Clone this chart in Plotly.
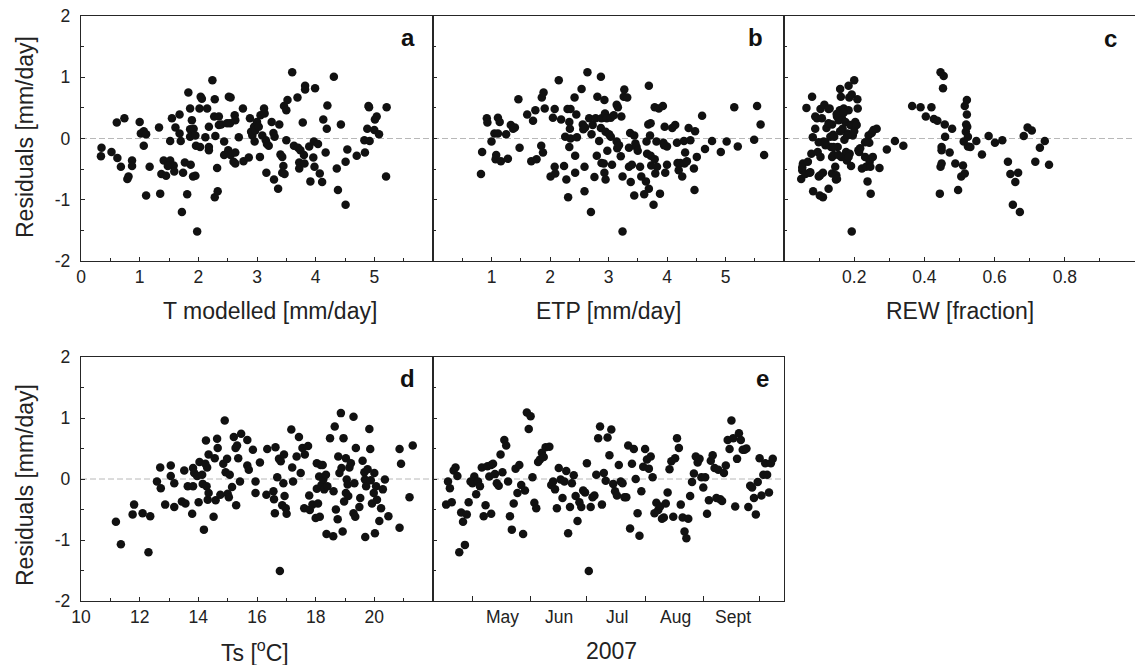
import plotly.graph_objects as go

# ---------------- data ----------------
# panel a : residuals vs modelled transpiration
t_modelled = [0.35, 0.34, 0.52, 0.61, 0.62, 0.74, 0.68, 0.79, 0.81, 0.87,
              0.87, 1.00, 1.02, 1.07, 1.11, 1.07, 1.11, 1.17, 1.33, 1.35,
              1.41, 1.37, 1.45, 1.52, 1.55, 1.52, 1.58, 1.59, 1.48, 1.61,
              1.68, 1.68, 1.70, 1.72, 1.74, 1.77, 1.81, 1.83, 1.86, 1.86,
              1.89, 1.86, 1.87, 1.91, 1.95, 1.92, 1.98, 1.96, 1.95, 2.02,
              2.03, 2.04, 2.06, 2.12, 2.15, 2.18, 2.18, 2.18, 2.24, 2.28,
              2.27, 2.28, 2.29, 2.32, 2.33, 2.35, 2.35, 2.39, 2.44, 2.44,
              2.49, 2.51, 2.52, 2.55, 2.55, 2.54, 2.60, 2.62, 2.63, 2.63,
              2.63, 2.69, 2.76, 2.77, 2.86, 2.88, 2.90, 2.92, 2.95, 2.96,
              2.97, 3.00, 3.03, 3.05, 3.06, 3.09, 3.12, 3.13, 3.15, 3.16,
              3.17, 3.20, 3.25, 3.28, 3.29, 3.30, 3.36, 3.38, 3.40, 3.43,
              3.45, 3.43, 3.46, 3.47, 3.50, 3.50, 3.52, 3.60, 3.63, 3.69,
              3.70, 3.72, 3.72, 3.74, 3.78, 3.80, 3.81, 3.82, 3.82, 3.89,
              3.91, 3.96, 3.97, 3.98, 3.99, 4.04, 4.07, 4.11, 4.13, 4.17,
              4.19, 4.20, 4.31, 4.36, 4.38, 4.43, 4.51, 4.51, 4.54, 4.70,
              4.83, 4.84, 4.88, 4.90, 4.91, 4.92, 5.00, 5.01, 5.04, 5.08,
              5.20, 5.21]
res_a = [-0.15, -0.29, -0.22, 0.26, -0.32, 0.33, -0.46, -0.66, -0.62, -0.36,
         -0.45, 0.27, 0.08, 0.12, 0.07, -0.12, -0.93, -0.46, 0.18, -0.90,
         -0.36, -0.58, -0.61, -0.36, 0.33, -0.04, -0.44, -0.54, -0.45, 0.18,
         0.39, 0.08, -0.04, -1.20, -0.56, -0.39, -0.91, 0.75, 0.49, 0.15,
         0.30, 0.03, -0.43, -0.62, -0.61, 0.16, -1.52, -0.12, 0.05, 0.49,
         -0.14, 0.68, 0.65, 0.02, 0.49, 0.19, -0.14, -0.19, 0.95, 0.64,
         0.36, -0.96, 0.04, -0.48, -0.86, 0.22, 0.36, 0.23, -0.05, -0.27,
         0.25, -0.19, 0.68, 0.67, -0.27, 0.25, -0.38, 0.38, 0.30, -0.23,
         -0.41, 0.02, 0.49, -0.37, -0.31, 0.33, 0.11, 0.05, 0.19, -0.05,
         0.13, 0.27, 0.19, -0.30, 0.38, 0.05, 0.49, 0.41, -0.03, -0.56,
         -0.09, -0.12, 0.27, 0.09, -0.67, 0.03, -0.82, 0.23, -0.26, -0.30,
         -0.45, -0.56, 0.53, -0.58, -0.03, 0.46, 0.63, 1.08, -0.12, 0.67,
         -0.15, -0.39, -0.49, -0.19, 0.26, -0.27, -0.41, 0.86, 0.80, -0.13,
         -0.70, -0.31, -0.05, -0.46, 0.82, -0.09, -0.57, -0.71, 0.31, -0.23,
         0.16, 0.54, 1.01, -0.49, -0.84, 0.23, -0.38, -1.08, -0.18, -0.28,
         -0.03, -0.23, 0.16, 0.53, 0.51, -0.04, 0.14, 0.31, 0.36, 0.07,
         -0.62, 0.51]

# panel b : residuals vs potential evapotranspiration
etp = [0.82, 0.84, 0.92, 0.93, 1.00, 1.05, 1.07, 1.08, 1.11, 1.11,
       1.14, 1.16, 1.25, 1.28, 1.33, 1.37, 1.40, 1.46, 1.48, 1.61,
       1.68, 1.71, 1.75, 1.77, 1.85, 1.88, 1.86, 1.89, 1.91, 2.01,
       2.05, 2.08, 2.08, 2.09, 2.15, 2.19, 2.24, 2.26, 2.28, 2.30,
       2.31, 2.33, 2.34, 2.35, 2.33, 2.35, 2.42, 2.43, 2.43, 2.45,
       2.46, 2.54, 2.56, 2.57, 2.59, 2.59, 2.60, 2.64, 2.67, 2.70,
       2.71, 2.73, 2.76, 2.78, 2.80, 2.81, 2.84, 2.87, 2.87, 2.88,
       2.88, 2.92, 2.93, 2.93, 2.94, 2.95, 2.95, 2.97, 2.98, 3.01,
       3.04, 3.04, 3.06, 3.09, 3.14, 3.14, 3.16, 3.15, 3.18, 3.21,
       3.22, 3.24, 3.24, 3.26, 3.27, 3.32, 3.35, 3.35, 3.37, 3.38,
       3.40, 3.44, 3.44, 3.46, 3.48, 3.50, 3.54, 3.56, 3.61, 3.64,
       3.65, 3.66, 3.68, 3.69, 3.69, 3.71, 3.72, 3.72, 3.73, 3.77,
       3.79, 3.79, 3.80, 3.82, 3.83, 3.86, 3.88, 3.93, 3.94, 3.95,
       3.96, 3.97, 4.00, 4.00, 4.09, 4.14, 4.17, 4.18, 4.20, 4.23,
       4.26, 4.29, 4.30, 4.31, 4.34, 4.37, 4.40, 4.46, 4.47, 4.48,
       4.51, 4.60, 4.65, 4.77, 4.92, 5.02, 5.15, 5.21, 5.49, 5.54,
       5.60, 5.66]
res_b = [-0.58, -0.22, 0.33, 0.26, -0.05, 0.08, -0.34, -0.27, 0.08, 0.34,
         0.27, -0.37, 0.07, -0.33, 0.22, 0.16, 0.18, 0.64, -0.15, 0.39,
         -0.37, 0.29, 0.46, -0.34, -0.12, -0.23, 0.67, 0.75, 0.49, -0.62,
         0.34, 0.48, -0.46, -0.57, 0.95, 0.31, -0.45, 0.03, -0.67, 0.48,
         -0.96, 0.27, 0.16, 0.48, -0.14, 0.00, 0.67, -0.28, -0.56, 0.39,
         0.02, 0.81, 0.23, 0.15, -0.46, -0.86, 0.18, 1.08, 0.33, -1.20,
         0.07, 0.22, -0.63, 0.33, -0.28, 0.68, -0.04, 1.01, 0.17, 0.33,
         -0.40, -0.41, 0.63, -0.56, 0.41, -0.67, 0.11, 0.33, -0.20, 0.07,
         0.03, 0.34, -0.43, 0.38, -0.05, 0.55, 0.51, -0.16, -0.11, -0.29,
         0.36, -0.62, -1.52, 0.68, 0.80, 0.67, -0.15, -0.46, 0.09, -0.71,
         -0.43, 0.05, -0.93, -0.08, -0.14, -0.20, -0.46, -0.62, -0.91, -0.70,
         -0.05, -0.25, 0.23, 0.86, -0.82, 0.05, 0.25, -0.28, -0.44, -1.08,
         0.51, -0.34, -0.57, -0.05, -0.46, 0.49, -0.90, 0.53, -0.07, -0.11,
         0.19, -0.56, -0.13, -0.43, 0.17, 0.22, -0.07, -0.40, -0.52, -0.40,
         -0.62, -0.04, -0.41, -0.23, -0.37, 0.17, -0.03, -0.49, -0.84, 0.12,
         -0.30, 0.37, -0.17, -0.04, -0.22, -0.05, 0.51, -0.13, -0.02, 0.53,
         0.23, -0.27]

# panel c : residuals vs relative extractable water
rew = [0.049, 0.052, 0.054, 0.061, 0.064, 0.068, 0.073, 0.078, 0.080, 0.082,
       0.083, 0.089, 0.089, 0.094, 0.096, 0.099, 0.102, 0.104, 0.104, 0.108,
       0.111, 0.111, 0.113, 0.115, 0.118, 0.121, 0.127, 0.130, 0.132, 0.134,
       0.137, 0.137, 0.137, 0.141, 0.143, 0.146, 0.148, 0.149, 0.151, 0.153,
       0.156, 0.159, 0.160, 0.162, 0.163, 0.165, 0.167, 0.170, 0.172, 0.173,
       0.175, 0.177, 0.179, 0.181, 0.184, 0.184, 0.186, 0.187, 0.189, 0.191,
       0.193, 0.193, 0.196, 0.200, 0.203, 0.207, 0.209, 0.210, 0.214, 0.217,
       0.222, 0.231, 0.234, 0.238, 0.241, 0.243, 0.244, 0.246, 0.247, 0.250,
       0.253, 0.255, 0.264, 0.272, 0.293, 0.316, 0.340, 0.365, 0.389, 0.404,
       0.420, 0.427, 0.437, 0.444, 0.446, 0.446, 0.449, 0.449, 0.453, 0.455,
       0.449, 0.458, 0.459, 0.472, 0.479, 0.488, 0.496, 0.505, 0.510, 0.512,
       0.515, 0.515, 0.518, 0.519, 0.521, 0.521, 0.522, 0.524, 0.524, 0.531,
       0.548, 0.564, 0.583, 0.601, 0.622, 0.638, 0.645, 0.652, 0.659, 0.667,
       0.672, 0.683, 0.694, 0.706, 0.716, 0.729, 0.743, 0.755,
       0.127, 0.127, 0.052, 0.075, 0.103, 0.151, 0.184, 0.155, 0.212, 0.141,
       0.099, 0.118, 0.231, 0.150, 0.170, 0.160, 0.180, 0.140, 0.200]
res_c = [-0.66, -0.52, -0.41, -0.58, 0.50, -0.38, -0.56, -0.25, 0.68, 0.02,
         -0.86, 0.36, 0.16, 0.33, -0.22, -0.62, -0.93, -0.30, 0.48, 0.33,
         -0.56, -0.96, -0.05, 0.55, -0.11, 0.17, -0.82, 0.49, 0.03, -0.14,
         -0.30, 0.23, -0.57, -0.27, 0.03, -0.46, -0.67, -0.60, 0.36, -0.14,
         0.30, 0.46, 0.81, 0.68, -0.30, 0.33, 0.16, 0.49, -0.02, -0.30,
         0.27, -0.22, -0.36, 0.08, 0.46, 0.86, 0.67, -0.25, 0.22, -0.45,
         -1.52, 0.72, 0.05, 0.95, 0.27, 0.22, 0.64, 0.49, -0.22, -0.16,
         -0.49, -0.30, -0.46, -0.70, 0.05, -0.07, -0.38, -0.46, -0.90, 0.09,
         -0.30, 0.14, 0.16, -0.48, -0.18, -0.04, -0.12, 0.53, 0.51, 0.36,
         0.51, 0.32, 0.29, -0.90, 1.08, -0.46, -0.14, -0.41, 0.82, 1.02,
         -0.19, 0.23, 0.03, -0.23, 0.16, -0.41, -0.84, -0.62, -0.44, -0.05,
         0.53, -0.57, 0.11, 0.23, 0.39, 0.63, 0.19, -0.13, 0.03, -0.14,
         -0.04, -0.26, 0.04, -0.07, -0.03, -0.38, -0.58, -1.08, -0.71, -0.56,
         -1.20, 0.04, 0.18, 0.13, -0.38, -0.15, -0.04, -0.43,
         0.48, 0.25, -0.47, -0.55, -0.60, -0.66, -0.30, -0.27, -0.19, -0.14,
         -0.06, -0.06, -0.06, 0.40, 0.42, 0.12, 0.05, 0.06, 0.12]

# panel d : residuals vs soil temperature
ts = [11.19, 11.36, 11.76, 11.81, 12.10, 12.30, 12.36, 12.59, 12.70, 12.72,
      12.87, 13.06, 13.06, 13.18, 13.18, 13.44, 13.52, 13.56, 13.64, 13.79,
      13.82, 13.82, 13.86, 13.96, 14.01, 14.04, 14.13, 14.15, 14.19, 14.24,
      14.26, 14.28, 14.30, 14.32, 14.35, 14.35, 14.52, 14.56, 14.59, 14.64,
      14.66, 14.75, 14.85, 14.90, 14.93, 14.98, 15.00, 15.04, 15.07, 15.15,
      15.21, 15.27, 15.29, 15.32, 15.36, 15.42, 15.46, 15.67, 15.67, 15.72,
      15.86, 15.95, 15.95, 16.10, 16.32, 16.35, 16.56, 16.58, 16.61, 16.63,
      16.69, 16.75, 16.78, 16.81, 16.86, 16.90, 16.94, 16.92, 16.98, 17.01,
      17.17, 17.20, 17.23, 17.35, 17.43, 17.49, 17.55, 17.61, 17.63, 17.74,
      17.78, 17.80, 17.89, 18.00, 18.04, 18.04, 18.08, 18.12, 18.14, 18.17,
      18.20, 18.24, 18.26, 18.29, 18.35, 18.37, 18.40, 18.49, 18.60, 18.61,
      18.65, 18.69, 18.75, 18.77, 18.81, 18.86, 18.88, 18.92, 18.95, 18.97,
      19.03, 19.03, 19.06, 19.09, 19.11, 19.15, 19.20, 19.29, 19.29, 19.32,
      19.35, 19.37, 19.49, 19.52, 19.60, 19.66, 19.68, 19.69, 19.72, 19.77,
      19.83, 19.86, 19.88, 19.92, 19.98, 20.00, 20.02, 20.06, 20.09, 20.17,
      20.23, 20.29, 20.36, 20.48, 20.86, 20.86, 20.91, 21.20, 21.31]
res_d = [-0.70, -1.07, -0.58, -0.42, -0.56, -1.20, -0.61, -0.04, 0.19, -0.15,
         -0.42, 0.22, 0.05, -0.07, -0.46, -0.37, 0.14, -0.40, -0.12, -0.57,
         0.18, -0.12, 0.10, 0.05, -0.38, 0.28, 0.07, -0.08, -0.83, 0.25,
         0.63, -0.12, 0.19, -0.34, 0.40, -0.23, -0.62, 0.34, -0.35, 0.66,
         0.51, -0.26, 0.25, 0.96, 0.11, 0.33, -0.24, -0.30, 0.07, -0.13,
         0.69, 0.51, -0.43, 0.55, 0.34, -0.04, 0.74, 0.64, 0.22, 0.15,
         0.48, -0.04, -0.23, 0.27, -0.26, 0.49, -0.20, -0.33, -0.56, 0.52,
         0.03, 0.33, -1.51, 0.29, -0.43, -0.07, -0.28, 0.40, -0.48, -0.57,
         0.81, 0.19, -0.04, 0.37, 0.69, 0.10, 0.51, -0.48, 0.40, 0.54,
         -0.27, -0.51, -0.42, -0.64, -0.16, 0.26, -0.40, 0.04, -0.62, 0.23,
         -0.10, 0.23, -0.01, -0.17, 0.07, -0.90, -0.12, 0.67, -0.94, -0.20,
         0.86, -0.50, -0.66, 0.37, 0.10, 1.08, 0.18, -0.86, 0.67, -0.37,
         0.34, -0.23, -0.01, -0.09, -0.28, 0.19, 0.26, 1.02, -0.56, -0.07,
         -0.62, 0.51, -0.46, -0.31, 0.30, 0.11, -0.01, -0.95, -0.12, 0.16,
         0.82, 0.49, -0.02, -0.40, -0.23, 0.10, -0.89, -0.12, -0.34, -0.69,
         -0.48, -0.17, -0.01, -0.61, 0.49, -0.80, 0.25, -0.30, 0.55]

# panel e : residuals through the 2007 season
dates = ["2007-04-17", "2007-04-18", "2007-04-19", "2007-04-20", "2007-04-21",
         "2007-04-22", "2007-04-23", "2007-04-24", "2007-04-25", "2007-04-26",
         "2007-04-27", "2007-04-28", "2007-04-29", "2007-04-30", "2007-05-01",
         "2007-05-02", "2007-05-03", "2007-05-04", "2007-05-05", "2007-05-06",
         "2007-05-07", "2007-05-08", "2007-05-09", "2007-05-10", "2007-05-11",
         "2007-05-11", "2007-05-12", "2007-05-13", "2007-05-14", "2007-05-15",
         "2007-05-16", "2007-05-17", "2007-05-18", "2007-05-19", "2007-05-20",
         "2007-05-21", "2007-05-22", "2007-05-23", "2007-05-24", "2007-05-25",
         "2007-05-26", "2007-05-27", "2007-05-28", "2007-05-29", "2007-05-30",
         "2007-06-01", "2007-05-31", "2007-06-02", "2007-06-03", "2007-06-04",
         "2007-06-05", "2007-06-06", "2007-06-07", "2007-06-08", "2007-06-09",
         "2007-06-11", "2007-06-12", "2007-06-13", "2007-06-14", "2007-06-15",
         "2007-06-16", "2007-06-17", "2007-06-18", "2007-06-19", "2007-06-20",
         "2007-06-21", "2007-06-22", "2007-06-23", "2007-06-24", "2007-06-25",
         "2007-06-26", "2007-06-27", "2007-06-28", "2007-06-29", "2007-06-30",
         "2007-07-01", "2007-07-02", "2007-07-03", "2007-07-04", "2007-07-05",
         "2007-07-06", "2007-07-07", "2007-07-08", "2007-07-09", "2007-07-10",
         "2007-07-11", "2007-07-12", "2007-07-13", "2007-07-14", "2007-07-15",
         "2007-07-16", "2007-07-17", "2007-07-18", "2007-07-19", "2007-07-20",
         "2007-07-21", "2007-07-22", "2007-07-23", "2007-07-24", "2007-07-25",
         "2007-07-26", "2007-07-27", "2007-07-28", "2007-07-29", "2007-07-30",
         "2007-07-31", "2007-08-01", "2007-08-02", "2007-08-03", "2007-08-04",
         "2007-08-05", "2007-08-06", "2007-08-07", "2007-08-08", "2007-08-09",
         "2007-08-10", "2007-08-11", "2007-08-12", "2007-08-13", "2007-08-14",
         "2007-08-15", "2007-08-16", "2007-08-17", "2007-08-18", "2007-08-19",
         "2007-08-20", "2007-08-21", "2007-08-22", "2007-08-23", "2007-08-24",
         "2007-08-25", "2007-08-26", "2007-08-27", "2007-08-28", "2007-08-29",
         "2007-08-30", "2007-08-31", "2007-09-01", "2007-09-02", "2007-09-03",
         "2007-09-04", "2007-09-05", "2007-09-06", "2007-09-07", "2007-09-08",
         "2007-09-09", "2007-09-10", "2007-09-11", "2007-09-12", "2007-09-13",
         "2007-09-14", "2007-09-15", "2007-09-16", "2007-09-17", "2007-09-18",
         "2007-09-19", "2007-09-20", "2007-09-21", "2007-09-22", "2007-09-23",
         "2007-09-24", "2007-09-25", "2007-09-26", "2007-09-27", "2007-09-28",
         "2007-09-29", "2007-09-30", "2007-10-01", "2007-10-02", "2007-10-03",
         "2007-10-04", "2007-10-05", "2007-10-06", "2007-10-07", "2007-10-08"]
res_e = [-0.42, -0.04, -0.15, -0.38, 0.14,
         0.19, 0.05, -1.20, -0.55, -0.70,
         -1.08, -0.58, -0.38, -0.04, -0.07,
         0.04, -0.25, -0.04, -0.12, 0.19,
         -0.61, -0.43, 0.21, 0.04, 0.23,
         -0.57, 0.25, 0.08, -0.07, -0.11,
         0.40, 0.11, 0.64, 0.55, -0.04,
         -0.61, -0.83, -0.40, 0.17, -0.23,
         0.23, -0.10, -0.90, -0.19, 1.09,
         1.03, 0.82, 0.03, -0.39, -0.48,
         0.28, 0.32, 0.43, 0.36, 0.52,
         0.53, -0.10, -0.04, -0.17, -0.48,
         0.18, -0.01, -0.31, -0.04, 0.13,
         -0.89, -0.46, -0.07, 0.06, -0.28,
         -0.69, -0.38, -0.46, -0.19, -0.22,
         0.26, -1.51, -0.46, -0.30, -0.27,
         0.07, 0.67, 0.86, -0.42, 0.10,
         -0.03, 0.68, 0.39, 0.81, -0.08,
         -0.20, -0.27, 0.23, -0.04, -0.07,
         -0.30, -0.30, 0.55, -0.81, 0.25,
         0.49, 0.00, -0.56, -0.93, -0.20,
         0.20, 0.49, 0.32, 0.17, 0.37,
         0.03, -0.56, -0.39, -0.51, -0.45,
         -0.65, -0.63, -0.40, -0.22, 0.16,
         0.29, -0.62, 0.34, 0.67, 0.51,
         -0.42, -0.63, -0.86, -0.97, -0.65,
         -0.28, -0.05, 0.09, 0.37, 0.27,
         0.33, 0.03, -0.14, 0.03, -0.57,
         -0.35, 0.30, 0.39, 0.18, -0.31,
         0.15, -0.33, -0.36, 0.10, 0.22,
         0.64, 0.49, 0.96, 0.67, -0.45,
         0.33, 0.75, 0.64, 0.48, 0.48,
         0.50, -0.46, -0.11, -0.14, -0.31,
         -0.58, -0.05, 0.34, -0.27, 0.07,
         0.26, 0.07, -0.22, 0.26, 0.33]

y_ticks = [-2, -1, 0, 1, 2]
y_ticktext = ["-2", "-1", "0", "1", "2"]
month_starts = ["2007-05-01", "2007-06-01", "2007-07-01", "2007-08-01",
                "2007-09-01", "2007-10-01"]
month_mid = ["2007-05-17", "2007-06-16", "2007-07-17", "2007-08-17",
             "2007-09-17"]
month_names = ["May", "Jun", "Jul", "Aug", "Sept"]
date_range = ["2007-04-10", "2007-10-14"]

# ---------------- layout helpers ----------------
W, H = 1135, 665
FONT = "Liberation Sans, Arial, Helvetica, sans-serif"
INK = "#262626"
TICK_SIZE = 17.5
TITLE_SIZE = 23


def hx(p):
    return p / W


def vy(p):
    return 1 - p / H


TOP = [vy(261), vy(16)]
BOT = [vy(601), vy(357)]
COLS = [[hx(81), hx(433)], [hx(433), hx(784)], [hx(784), 1.0]]

marker = dict(size=8.5, color="#111111", line=dict(width=0))

fig = go.Figure()
series = [(t_modelled, res_a, "x", "y"), (etp, res_b, "x2", "y2"),
          (rew, res_c, "x3", "y3"), (ts, res_d, "x4", "y4"),
          (dates, res_e, "x5", "y5")]
for xs, ys, xa, ya in series:
    fig.add_trace(go.Scatter(x=xs, y=ys, mode="markers", marker=marker,
                             xaxis=xa, yaxis=ya, showlegend=False,
                             hoverinfo="skip"))

tickfont = dict(family=FONT, size=TICK_SIZE, color="#222")
base = dict(showline=True, linecolor=INK, linewidth=1.3, mirror=True,
            ticks="inside", ticklen=4, tickwidth=1, tickcolor=INK,
            showgrid=False, zeroline=False, tickfont=tickfont,
            fixedrange=True, automargin=False)


def minor(d, t0):
    return dict(ticks="inside", ticklen=2.5, tickwidth=1, tickcolor=INK,
                dtick=d, tick0=t0, showgrid=False)


def yax(domain, anchor, labels):
    return dict(base, domain=domain, anchor=anchor, range=[-2, 2],
                tickmode="array", tickvals=y_ticks, ticktext=y_ticktext,
                showticklabels=labels, minor=minor(0.5, 0),
                ticklabelstandoff=6)


xbase = dict(base, ticklabelstandoff=0)

# figure size is given through the page container (1135 x 665 px), pinned to
# the top-left corner so the page's default body margin does not shift it
layout = dict(
    autosize=True, margin=dict(l=0, r=0, t=0, b=0, pad=0),
    paper_bgcolor="white", plot_bgcolor="white",
    font=dict(family=FONT, color="#222"),
    xaxis=dict(xbase, domain=COLS[0], anchor="y", range=[0, 6],
               tickmode="array", tickvals=[0, 1, 2, 3, 4, 5],
               minor=minor(0.5, 0)),
    xaxis2=dict(xbase, domain=COLS[1], anchor="y2", range=[0, 6],
                tickmode="array", tickvals=[1, 2, 3, 4, 5],
                minor=minor(0.5, 0)),
    xaxis3=dict(xbase, domain=COLS[2], anchor="y3", range=[0, 1],
                tickmode="array", tickvals=[0.2, 0.4, 0.6, 0.8, 1.0],
                ticktext=["0.2", "0.4", "0.6", "0.8", "1"],
                minor=minor(0.1, 0)),
    xaxis4=dict(xbase, domain=COLS[0], anchor="y4", range=[10, 22],
                tickmode="array", tickvals=[10, 12, 14, 16, 18, 20],
                minor=minor(1, 10)),
    xaxis5=dict(xbase, domain=COLS[1], anchor="y5", type="date",
                range=date_range, tickmode="array", tickvals=month_starts,
                showticklabels=False, ticklen=5),
    yaxis=yax(TOP, "x", True),
    yaxis2=yax(TOP, "x2", False),
    yaxis3=yax(TOP, "x3", False),
    yaxis4=yax(BOT, "x4", True),
    yaxis5=yax(BOT, "x5", False),
)
fig.update_layout(**layout)

# dashed zero reference lines
for xa, ya in [("x", "y"), ("x2", "y2"), ("x3", "y3"), ("x4", "y4"),
               ("x5", "y5")]:
    fig.add_shape(type="line", xref=f"{xa} domain", yref=ya, x0=0, x1=1,
                  y0=0, y1=0, layer="below",
                  line=dict(color="#b8b8b8", width=1, dash="6px,3px"))

# month names centred inside each month of panel e
for d, name in zip(month_mid, month_names):
    fig.add_annotation(text=name, x=d, xref="x5", y=vy(617), yref="paper",
                       showarrow=False, xanchor="center", yanchor="middle",
                       font=tickfont)

# panel letters
letters = [("a", 408, 37), ("b", 755, 37), ("c", 1110, 38),
           ("d", 407, 378), ("e", 762, 378)]
for txt, px_, py_ in letters:
    fig.add_annotation(text=f"<b>{txt}</b>", x=hx(px_), y=vy(py_),
                       xref="paper", yref="paper", showarrow=False,
                       xanchor="center", yanchor="middle",
                       font=dict(family=FONT, size=24, color="#111"))

# axis titles
tfont = dict(family=FONT, size=TITLE_SIZE, color="#222")
xtitles = [("T modelled [mm/day]", 270, 311), ("ETP [mm/day]", 608, 311),
           ("REW [fraction]", 960, 311), ("Ts [<sup>o</sup>C]", 255, 651),
           ("2007", 611, 651)]
for txt, px_, py_ in xtitles:
    fig.add_annotation(text=txt, x=hx(px_), y=vy(py_), xref="paper",
                       yref="paper", showarrow=False, xanchor="center",
                       yanchor="middle", font=tfont)
for py_ in (137, 485):
    fig.add_annotation(text="Residuals [mm/day]", x=hx(25), y=vy(py_),
                       xref="paper", yref="paper", showarrow=False,
                       textangle=-90, xanchor="center", yanchor="middle",
                       font=tfont)

fig.write_html("out.html",
               default_width=f"{W}px;position:absolute;left:0;top:0",
               default_height=f"{H}px",
               post_script="document.body.style.margin='0px';")
